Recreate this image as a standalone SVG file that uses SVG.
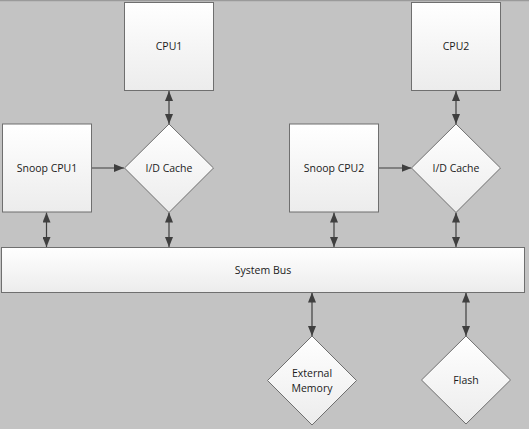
<svg xmlns="http://www.w3.org/2000/svg" width="529" height="429" viewBox="0 0 529 429">
<style>
.shape{fill:url(#g);stroke:#6f6f6f;stroke-width:1}
.lbl{font-family:"Open Sans","Liberation Sans",sans-serif;font-size:10.5px;fill:#1a1a1a;text-anchor:middle;dominant-baseline:central}
.conn{stroke:#3f3f3f;stroke-width:1.2;fill:none}
</style>
<defs>
<linearGradient id="g" x1="0" y1="0" x2="0" y2="1">
<stop offset="0" stop-color="#ffffff"/>
<stop offset="1" stop-color="#ececec"/>
</linearGradient>
<marker id="ah" markerUnits="userSpaceOnUse" markerWidth="10" markerHeight="8" viewBox="0 0 10 8" refX="10" refY="4" orient="auto-start-reverse">
<path d="M0,0 L10,4 L0,8 Z" fill="#3f3f3f"/>
</marker>
</defs>
<rect x="0" y="0" width="529" height="429" fill="#c3c3c3"/>
<line x1="0" y1="0.5" x2="529" y2="0.5" stroke="#9a9a9a" stroke-width="1.5"/>
<g id="connectors">
<line class="conn" x1="169" y1="91" x2="169" y2="124" marker-start="url(#ah)" marker-end="url(#ah)"/>
<line class="conn" x1="456" y1="91" x2="456" y2="124" marker-start="url(#ah)" marker-end="url(#ah)"/>
<line class="conn" x1="91.5" y1="168" x2="124" y2="168" marker-end="url(#ah)"/>
<line class="conn" x1="378.5" y1="168" x2="411.5" y2="168" marker-end="url(#ah)"/>
<line class="conn" x1="46.5" y1="212.5" x2="46.5" y2="247" marker-start="url(#ah)" marker-end="url(#ah)"/>
<line class="conn" x1="169" y1="212.5" x2="169" y2="247" marker-start="url(#ah)" marker-end="url(#ah)"/>
<line class="conn" x1="334" y1="212.5" x2="334" y2="247" marker-start="url(#ah)" marker-end="url(#ah)"/>
<line class="conn" x1="456" y1="212.5" x2="456" y2="247" marker-start="url(#ah)" marker-end="url(#ah)"/>
<line class="conn" x1="312" y1="292.5" x2="312" y2="336" marker-start="url(#ah)" marker-end="url(#ah)"/>
<line class="conn" x1="466" y1="292.5" x2="466" y2="336" marker-start="url(#ah)" marker-end="url(#ah)"/>
</g>
<g id="cpu1">
<rect class="shape" x="124.5" y="2.5" width="89" height="88"/>
<text class="lbl" x="169" y="46">CPU1</text>
</g>
<g id="cpu2">
<rect class="shape" x="411.5" y="2.5" width="89" height="88"/>
<text class="lbl" x="456" y="46">CPU2</text>
</g>
<g id="snoop1">
<rect class="shape" x="2.5" y="124" width="89" height="88"/>
<text class="lbl" x="47" y="168">Snoop CPU1</text>
</g>
<g id="snoop2">
<rect class="shape" x="289.5" y="124" width="89" height="88"/>
<text class="lbl" x="334" y="168">Snoop CPU2</text>
</g>
<g id="cache1">
<polygon class="shape" points="169,124 213.5,168 169,212.5 124.5,168"/>
<text class="lbl" x="169" y="168">I/D Cache</text>
</g>
<g id="cache2">
<polygon class="shape" points="456,124 500.5,168 456,212.5 411.5,168"/>
<text class="lbl" x="456" y="168">I/D Cache</text>
</g>
<g id="bus">
<rect class="shape" x="1.5" y="247.5" width="523" height="45"/>
<text class="lbl" x="263" y="270">System Bus</text>
</g>
<g id="extmem">
<polygon class="shape" points="312,336 356.5,380.5 312,425 267.5,380.5"/>
<text class="lbl" x="312" y="373">External</text>
<text class="lbl" x="312" y="388">Memory</text>
</g>
<g id="flash">
<polygon class="shape" points="466,336 510.5,380 466,424 421.5,380"/>
<text class="lbl" x="466" y="380">Flash</text>
</g>
</svg>
